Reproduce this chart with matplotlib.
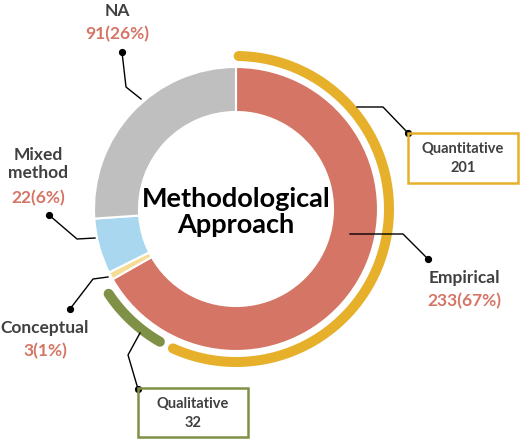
import numpy as np
import matplotlib
matplotlib.use("Agg")
import matplotlib.pyplot as plt
from matplotlib.patches import Rectangle

plt.rcParams['font.family'] = ['Lato', 'DejaVu Sans']

# ---- data ----
categories = ["Empirical", "Conceptual", "Mixed\nmethod", "NA"]
counts = [233, 3, 22, 91]
percents = [67, 1, 6, 26]
sub_categories = ["Quantitative", "Qualitative"]
sub_counts = [201, 32]
center_title = "Methodological\nApproach"

colors = ["#D57565", "#F7DC95", "#A9D7F0", "#BFBFBF"]
sub_colors = ["#E6B02B", "#7E9146"]
label_gray = "#404040"
value_col = "#D57565"

W, H = 520, 440
CX, CY = 236, 209


def P(x, y):
    return (x - CX, CY - y)


fig = plt.figure(figsize=(5.2, 4.4), dpi=100)
ax = fig.add_axes([0, 0, 1, 1])

R_OUT, R_W = 142, 45
ax.pie(counts, radius=R_OUT, startangle=90, counterclock=False,
       colors=colors,
       wedgeprops=dict(width=R_W, edgecolor='white', linewidth=1.5))

# outer arcs with rounded caps
total = sum(counts)
R_ARC = 153
start = 0.0
insets = [(1.0, 3.0), (2.5, 4.0)]
for val, col, (a0, a1) in zip(sub_counts, sub_colors, insets):
    end = start + val / total * 360.0
    th = np.linspace(start + a0, end - a1, 200)
    ang = np.deg2rad(90 - th)
    ax.plot(R_ARC * np.cos(ang), R_ARC * np.sin(ang), color=col, lw=7.2,
            solid_capstyle='round')
    start = end

# center title
ax.text(*P(236, 212), center_title, ha='center', va='center', fontsize=19.5,
        fontweight='bold', color='black', linespacing=1.12)


def leader(pts):
    xs, ys = zip(*[P(*p) for p in pts])
    ax.plot(xs, ys, color='black', lw=1.0)
    ax.plot(xs[0], ys[0], 'o', color='black', ms=4.2)


# category labels
lab_fs = 12.5
# NA
ax.text(*P(117, 11), categories[3], ha='center', va='center', fontsize=lab_fs,
        fontweight='bold', color=label_gray)
ax.text(*P(117, 34), f"{counts[3]}({percents[3]}%)", ha='center', va='center',
        fontsize=lab_fs, fontweight='bold', color=value_col)
leader([(122, 52), (126, 87), (141, 99)])

# Mixed method
ax.text(*P(38, 164), categories[2], ha='center', va='center', fontsize=lab_fs,
        fontweight='bold', color=label_gray, linespacing=1.2)
ax.text(*P(38, 198), f"{counts[2]}({percents[2]}%)", ha='center', va='center',
        fontsize=lab_fs, fontweight='bold', color=value_col)
leader([(49, 215), (77, 239), (95, 238)])

# Conceptual
ax.text(*P(45, 328), categories[1], ha='center', va='center', fontsize=lab_fs,
        fontweight='bold', color=label_gray)
ax.text(*P(45, 351), f"{counts[1]}({percents[1]}%)", ha='center', va='center',
        fontsize=lab_fs, fontweight='bold', color=value_col)
leader([(70, 309), (93, 279), (108, 277)])

# Empirical
ax.text(*P(464, 278), categories[0], ha='center', va='center', fontsize=lab_fs,
        fontweight='bold', color=label_gray)
ax.text(*P(464, 301), f"{counts[0]}({percents[0]}%)", ha='center', va='center',
        fontsize=lab_fs, fontweight='bold', color=value_col)
leader([(428, 259), (403, 234), (350, 234)])

# sub-category boxes
box_fs = 10.5


def box(x0, y0, x1, y1, col, name, val):
    bx, by = P(x0, y1)
    ax.add_patch(Rectangle((bx, by), x1 - x0, y1 - y0, fill=False,
                           edgecolor=col, lw=1.8, zorder=3))
    cx = (x0 + x1) / 2
    ax.text(*P(cx, y0 + 16), name, ha='center', va='center', fontsize=box_fs,
            fontweight='bold', color=label_gray)
    ax.text(*P(cx, y0 + 35), str(val), ha='center', va='center',
            fontsize=box_fs, fontweight='bold', color=label_gray)


box(408, 133, 518, 183, sub_colors[0], sub_categories[0], sub_counts[0])
leader([(408, 133), (383, 107), (357, 107)])

box(138, 388, 248, 437, sub_colors[1], sub_categories[1], sub_counts[1])
leader([(138, 389), (128, 355), (140, 333)])

ax.set_xlim(-CX, W - CX)
ax.set_ylim(CY - H, CY)
ax.set_aspect('equal')
ax.axis('off')

fig.savefig("out.png", dpi=100, facecolor='white')
